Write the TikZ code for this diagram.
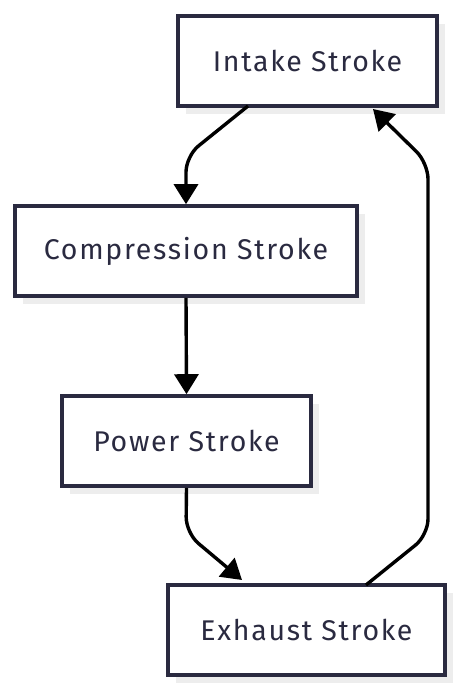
\documentclass[tikz,border=0pt]{standalone}
\usepackage{fontspec}
\setmainfont{Fira Sans}
\newfontfamily\boxfont[LetterSpace=6]{Fira Sans}
\usetikzlibrary{arrows.meta,shadows}
\definecolor{navy}{HTML}{2A2A40}
\definecolor{shade}{HTML}{EDEDED}
\begin{document}
\begin{tikzpicture}[x=1pt,y=-1pt,
  box/.style={draw=navy,line width=3.6pt,fill=white,text=navy,inner sep=0pt,
    font=\boxfont\fontsize{28.5}{32}\selectfont,
    drop shadow={shadow xshift=8pt,shadow yshift=-8pt,fill=shade,opacity=1}},
  conn/.style={line width=3.4pt,rounded corners=16pt,-{Triangle[length=20pt,width=24pt]}}]
\useasboundingbox (0,0) rectangle (461,692);
\node[box,minimum width=259pt,minimum height=90pt] (I) at (307.5,61) {Intake Stroke};
\node[box,minimum width=342pt,minimum height=90pt] (C) at (186,251) {Compression Stroke};
\node[box,minimum width=249pt,minimum height=90pt] (P) at (186.5,441) {Power Stroke};
\node[box,minimum width=277pt,minimum height=90pt] (E) at (306.5,630) {Exhaust Stroke};
\coordinate (a1) at (248,106);
\coordinate (a2) at (186,156);
\coordinate (b1) at (186,533);
\coordinate (b2) at (242,580);
\coordinate (c1) at (366,585);
\coordinate (c2) at (428,535);
\coordinate (c3) at (428,163);
\coordinate (c4) at (373,109);
\draw[conn] (a1) -- (a2) -- (C.north);
\draw[conn] (C.south) -- (P.north);
\draw[conn] (P.south) -- (b1) -- (b2);
\draw[conn] (c1) -- (c2) -- (c3) -- (c4);
\end{tikzpicture}
\end{document}
